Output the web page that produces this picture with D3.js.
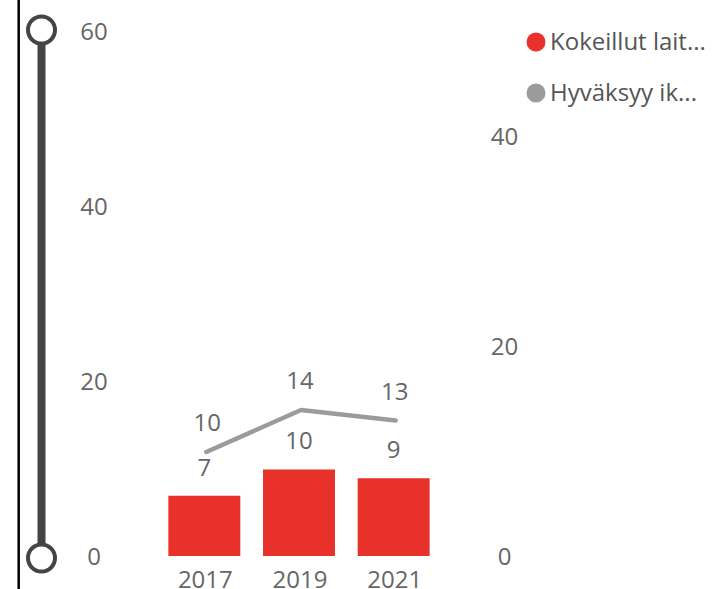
<!DOCTYPE html>
<html>
<head>
<meta charset="utf-8">
<script src="https://cdn.jsdelivr.net/npm/d3@7"></script>
<style>
  html, body { margin: 0; padding: 0; background: #fff; }
  svg { display: block; font-family: "Segoe UI", "Open Sans", "Noto Sans", sans-serif; }
</style>
</head>
<body>
<svg id="chart" width="721" height="589"></svg>
<script>
// Survey years and the two measures
const years = ["2017", "2019", "2021"];
const triedValues = [7, 10, 9];        // bars (left axis)
const acceptsValues = [10, 14, 13];    // line (right axis)
const leftTicks = [0, 20, 40, 60];
const rightTicks = [0, 20, 40];
const seriesNames = ["Kokeillut lait...", "Hyväksyy ik..."];
const seriesColors = ["#E8312B", "#9B9B9B"];

const svg = d3.select("#chart");
const fontSize = 24;
const labelColor = "#666";

const x = d3.scaleBand().domain(years).range([157, 441]).paddingInner(0.24).paddingOuter(0.12);
const yLeft = d3.scaleLinear().domain([0, 60]).range([557, 32]);
const yRight = d3.scaleLinear().domain([0, 50]).range([557, 32]);

// Frame line on the left edge
svg.append("line").attr("x1", 18.7).attr("x2", 18.7).attr("y1", 0).attr("y2", 589)
  .attr("stroke", "#000").attr("stroke-width", 2.5);

// Partial title descender at the top
svg.append("text").attr("x", 514).attr("y", -8).attr("font-size", 22).attr("fill", "#222").text("p");

// Range slider along the left axis
svg.append("line").attr("x1", 41.5).attr("x2", 41.5)
  .attr("y1", yLeft(60) - 2).attr("y2", yLeft(0) + 1)
  .attr("stroke", "#444").attr("stroke-width", 8);
[[60, -2], [0, 1]].forEach(([v, off]) => {
  svg.append("circle").attr("cx", 41.5).attr("cy", yLeft(v) + off).attr("r", 13.5)
    .attr("fill", "#fff").attr("stroke", "#444").attr("stroke-width", 4);
});

// Left axis labels
svg.append("g").selectAll("text").data(leftTicks).join("text")
  .attr("x", 94).attr("y", d => yLeft(d)).attr("dy", "0.35em")
  .attr("text-anchor", "middle").attr("font-size", fontSize).attr("fill", labelColor)
  .text(d => d);

// Right axis labels
svg.append("g").selectAll("text").data(rightTicks).join("text")
  .attr("x", 504.5).attr("y", d => yRight(d)).attr("dy", "0.35em")
  .attr("text-anchor", "middle").attr("font-size", fontSize).attr("fill", labelColor)
  .text(d => d);

// X axis labels
svg.append("g").selectAll("text").data(years).join("text")
  .attr("x", d => x(d) + x.bandwidth() / 2 + 1).attr("y", 579.5).attr("dy", "0.35em")
  .attr("text-anchor", "middle").attr("font-size", fontSize).attr("fill", labelColor)
  .text(d => d);

// Bars
svg.append("g").selectAll("rect").data(years).join("rect")
  .attr("x", d => x(d)).attr("width", x.bandwidth())
  .attr("y", (d, i) => yLeft(triedValues[i]))
  .attr("height", (d, i) => yLeft(0) - 1 - yLeft(triedValues[i]))
  .attr("fill", seriesColors[0]);

// Bar value labels
svg.append("g").selectAll("text").data(years).join("text")
  .attr("x", d => x(d) + x.bandwidth() / 2)
  .attr("y", (d, i) => yLeft(triedValues[i]) - 28.5).attr("dy", "0.35em")
  .attr("text-anchor", "middle").attr("font-size", fontSize).attr("fill", labelColor)
  .text((d, i) => triedValues[i]);

// Line
const line = d3.line()
  .x((d, i) => x(years[i]) + x.bandwidth() / 2 + 2)
  .y(d => yRight(d));
svg.append("path").datum(acceptsValues)
  .attr("d", line).attr("fill", "none")
  .attr("stroke", seriesColors[1]).attr("stroke-width", 4.5)
  .attr("stroke-linecap", "round").attr("stroke-linejoin", "round");

// Line value labels
svg.append("g").selectAll("text").data(acceptsValues).join("text")
  .attr("x", (d, i) => x(years[i]) + x.bandwidth() / 2 + (i === 0 ? 3 : 1))
  .attr("y", d => yRight(d) - 29).attr("dy", "0.35em")
  .attr("text-anchor", "middle").attr("font-size", fontSize).attr("fill", labelColor)
  .text(d => d);

// Legend
const legend = svg.append("g").selectAll("g").data(seriesNames).join("g")
  .attr("transform", (d, i) => `translate(536, ${42 + i * 51})`);
legend.append("circle").attr("r", 9.5).attr("fill", (d, i) => seriesColors[i]);
legend.append("text").attr("x", 14).attr("dy", "0.35em")
  .attr("font-size", fontSize).attr("fill", "#555").text(d => d);
</script>
</body>
</html>
